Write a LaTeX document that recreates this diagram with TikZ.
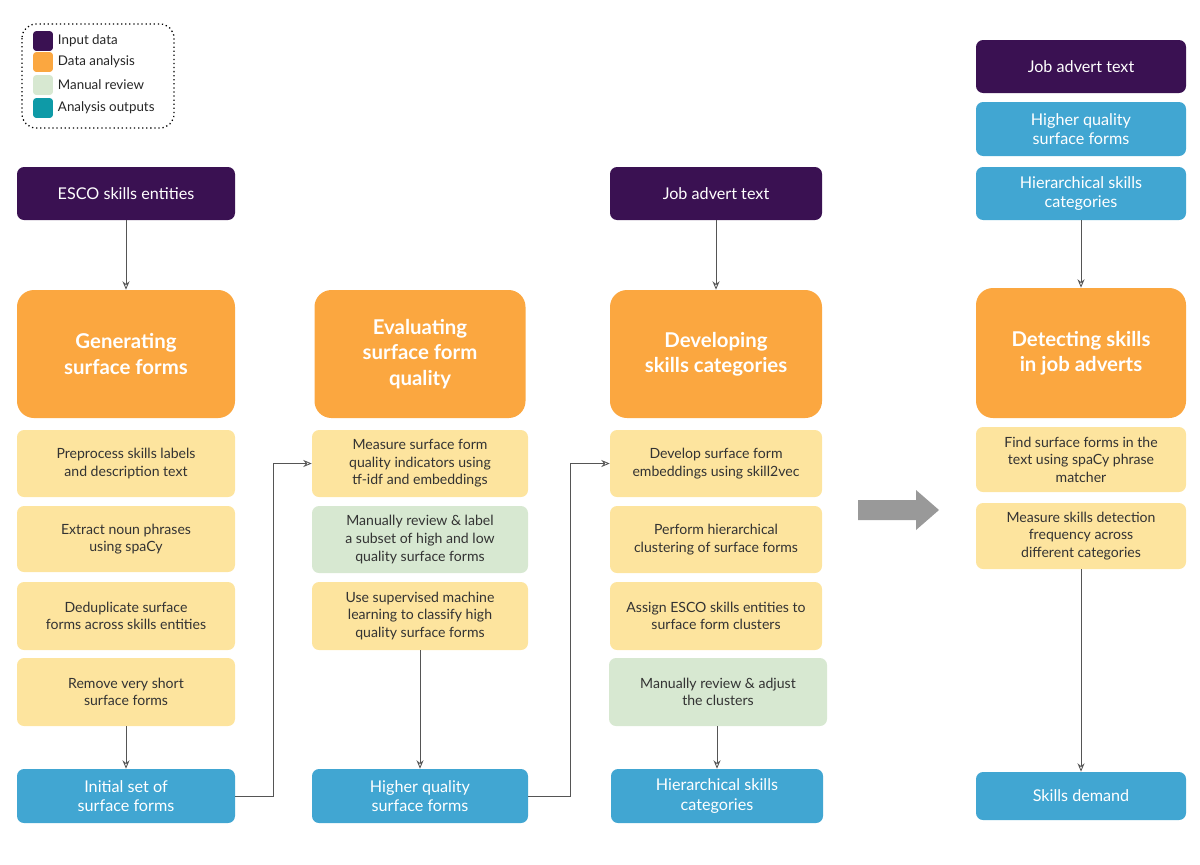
\documentclass[tikz,border=0pt]{standalone}
\usepackage{fontspec}
\setmainfont{Lato}
\usetikzlibrary{arrows.meta}
\definecolor{cpur}{HTML}{3A1152}
\definecolor{corg}{HTML}{FBA740}
\definecolor{cyel}{HTML}{FDE49E}
\definecolor{cgrn}{HTML}{D7E8D1}
\definecolor{cblu}{HTML}{41A6D2}
\definecolor{cteal}{HTML}{0E9AA7}
\definecolor{cline}{HTML}{555555}
\begin{document}
\begin{tikzpicture}[x=0.025cm,y=-0.025cm,
 box/.style={rounded corners=5pt,align=center,inner sep=2pt},
 pur/.style={box,fill=cpur,text=white,font=\fontsize{11.5}{14}\selectfont},
 blu/.style={box,fill=cblu,text=white,font=\fontsize{11.5}{14}\selectfont},
 org/.style={box,rounded corners=12pt,fill=corg,text=white,font=\fontsize{14.5}{18}\selectfont\bfseries},
 yel/.style={box,fill=cyel,text=black!80,font=\fontsize{10}{12.5}\selectfont},
 grn/.style={box,fill=cgrn,text=black!80,font=\fontsize{10}{12.5}\selectfont},
 arr/.style={draw=cline,line width=0.6pt,-{Stealth[open,length=6pt,width=5pt]}},
 leg/.style={minimum width=14pt,minimum height=14pt,rounded corners=2pt,inner sep=0pt},
 legt/.style={anchor=west,font=\fontsize{9.5}{11}\selectfont,text=black!85}]
\useasboundingbox (0,0) rectangle (1200,864);
% legend
\draw[dotted,line width=0.9pt,rounded corners=10pt] (22,24) rectangle (174,128);
\foreach \y/\c/\t/\n in {41/cpur/Input data/a,62/corg/Data analysis/b,85/cgrn/Manual review/c,108/cteal/Analysis outputs/d}{
 \node[leg,fill=\c] (l\n) at (43,\y) {};
 \node[legt] (lt\n) at (53,\y) {\t};}
% helper macro
\newcommand{\bx}[7]{\node[#1,minimum width=#4*0.025cm,minimum height=#5*0.025cm] (#6) at ({#2},{#3}) {#7};}
% col1
\bx{pur}{126}{193.5}{218}{53}{c1a}{ESCO skills entities}
\bx{org}{126}{354}{218}{128}{c1b}{Generating\\surface forms}
\bx{yel}{126}{463.5}{218}{67}{c1c}{Preprocess skills labels\\and description text}
\bx{yel}{126}{539}{218}{66}{c1d}{Extract noun phrases\\using spaCy}
\bx{yel}{126}{616}{218}{68}{c1e}{Deduplicate surface\\forms across skills entities}
\bx{yel}{126}{692}{218}{68}{c1f}{Remove very short\\surface forms}
\bx{blu}{126}{796}{218}{54}{c1g}{Initial set of\\surface forms}
% col2
\bx{org}{420}{354}{211}{128}{c2b}{Evaluating\\surface form\\quality}
\bx{yel}{420}{463.5}{216}{67}{c2c}{Measure surface form\\quality indicators using\\tf-idf and embeddings}
\bx{grn}{420}{539.5}{216}{67}{c2d}{Manually review \& label\\a subset of high and low\\quality surface forms}
\bx{yel}{420}{616}{216}{68}{c2e}{Use supervised machine\\learning to classify high\\quality surface forms}
\bx{blu}{420}{796}{216}{54}{c2g}{Higher quality\\surface forms}
% col3
\bx{pur}{716}{193.5}{212}{53}{c3a}{Job advert text}
\bx{org}{716}{354}{212}{128}{c3b}{Developing\\skills categories}
\bx{yel}{716}{463.5}{212}{67}{c3c}{Develop surface form\\embeddings using skill2vec}
\bx{yel}{716}{539.5}{212}{67}{c3d}{Perform hierarchical\\clustering of surface forms}
\bx{yel}{716}{616}{212}{68}{c3e}{Assign ESCO skills entities to\\surface form clusters}
\bx{grn}{718}{692}{218}{68}{c3f}{Manually review \& adjust\\the clusters}
\bx{blu}{717}{796}{212}{54}{c3g}{Hierarchical skills\\categories}
% col4
\bx{pur}{1081}{66.5}{210}{53}{c4x}{Job advert text}
\bx{blu}{1081}{129}{210}{54}{c4y}{Higher quality\\surface forms}
\bx{blu}{1081}{193.5}{210}{53}{c4a}{Hierarchical skills\\categories}
\bx{org}{1081}{353}{210}{130}{c4b}{Detecting skills\\in job adverts}
\bx{yel}{1081}{459.5}{210}{65}{c4c}{Find surface forms in the\\text using spaCy phrase\\matcher}
\bx{yel}{1081}{536}{210}{66}{c4d}{Measure skills detection\\frequency across\\different categories}
\bx{blu}{1081}{796}{210}{48}{c4g}{Skills demand}
% arrows
\draw[arr] (c1a) -- (c1b);
\draw[arr] (c1f) -- (c1g);
\draw[arr] (c2e) -- (c2g);
\draw[arr] (c3a) -- (c3b);
\draw[arr] (c3f.south -| c3g) -- (c3g);
\draw[arr] (c4a) -- (c4b);
\draw[arr] (c4d) -- (c4g);
\coordinate (k1) at (273,796);
\coordinate (k2) at (570,796);
\draw[arr] (c1g.east) -- (k1) |- (c2c.west);
\draw[arr] (c2g.east) -- (k2) |- (c3c.west);
% big arrow
\fill[black!40] (858,500) -- (916,500) -- (916,490) -- (939,510) -- (916,530) -- (916,520) -- (858,520) -- cycle;
\end{tikzpicture}
\end{document}
